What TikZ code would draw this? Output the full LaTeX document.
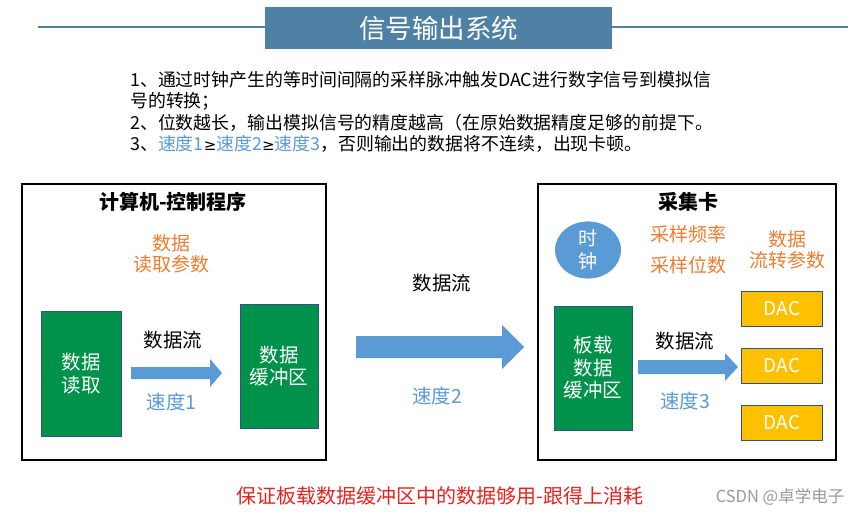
\documentclass[tikz,border=0pt]{standalone}
\usepackage{fontspec}
\usetikzlibrary{shapes.geometric}
\setmainfont{Noto Sans CJK SC}
\newfontfamily\symfont{DejaVu Sans}
\definecolor{titleblue}{HTML}{4F81A5}
\definecolor{arrowblue}{HTML}{5B9BD5}
\definecolor{grn}{HTML}{00914A}
\definecolor{orng}{HTML}{ED7D31}
\definecolor{dacfill}{HTML}{FFC000}
\definecolor{boxedge}{HTML}{2F528F}
\definecolor{redtxt}{HTML}{E8231E}
\definecolor{wmgray}{HTML}{9A9A9A}
\newcommand{\mygeq}{{\symfont\fontsize{15}{17}\selectfont ≥}}
\begin{document}
\begin{tikzpicture}[x=1pt,y=-1pt,
  txt/.style={inner sep=0pt, font=\fontsize{17.9}{20}\selectfont},
  lbl/.style={inner sep=0pt, font=\fontsize{19.5}{22}\selectfont},
  greenbox/.style={draw=boxedge, line width=0.8pt, fill=grn, text=white, align=center, inner sep=0pt, font=\fontsize{19.5}{22.5}\selectfont},
  dacbox/.style={draw=boxedge, line width=0.8pt, fill=dacfill, text=white, inner sep=0pt, minimum width=81pt, minimum height=35pt, font=\fontsize{19}{22}\selectfont},
  frame/.style={draw=black, line width=1.6pt},
  orangetxt/.style={inner sep=0pt, text=orng, align=center, font=\fontsize{19}{21}\selectfont},
  bluetxt/.style={lbl, text=arrowblue},
  boxtitle/.style={inner sep=0pt, font=\bfseries\fontsize{20}{22}\selectfont},
  flow/.style={fill=arrowblue}
]
\useasboundingbox (0,0) rectangle (861,518);
\fill[white] (0,0) rectangle (861,518);

% title
\node[fill=titleblue, minimum width=347pt, minimum height=42pt, inner sep=0pt, text=white, font=\fontsize{26.5}{28}\selectfont] (title) at (438.5,28) {信号输出系统};
\coordinate (tl) at (38,27);
\coordinate (tr) at (848,27);
\draw[titleblue, line width=1.8pt] (tl) -- (title.west |- tl);
\draw[titleblue, line width=1.8pt] (title.east |- tr) -- (tr);

% header text
\node[txt, anchor=west] (l1) at (130,80) {1、通过时钟产生的等时间间隔的采样脉冲触发DAC进行数字信号到模拟信};
\node[txt, anchor=west] (l2) at (130,101) {号的转换；};
\node[txt, anchor=west] (l3) at (130,123) {2、位数越长，输出模拟信号的精度越高（在原始数据精度足够的前提下。};
\node[txt, anchor=west] (l4) at (130,144) {3、{\color{arrowblue}速度1}\mygeq{\color{arrowblue}速度2}\mygeq{\color{arrowblue}速度3}，否则输出的数据将不连续，出现卡顿。};

% left frame
\node[frame, minimum width=304pt, minimum height=276pt, inner sep=0pt] (pc) at (174,322) {};
\node[boxtitle] (pctitle) at (173,201.5) {计算机-控制程序};
\node[orangetxt] (readparam) at (171,253.5) {数据\\读取参数};
\node[greenbox, minimum width=80pt, minimum height=125pt] (read) at (81,373.5) {数据\\读取};
\node[greenbox, minimum width=78pt, minimum height=124pt] (buf) at (279,366) {数据\\缓冲区};
\fill[flow] (131,367) -- (210,367) -- (210,359) -- (222,373) -- (210,387) -- (210,379) -- (131,379) -- cycle;
\node[lbl] (flow1) at (173,340) {数据流};
\node[bluetxt] (speed1) at (171.5,402) {速度1};

% middle
\fill[flow] (356,336) -- (502,336) -- (502,325) -- (524,347) -- (502,369) -- (502,358) -- (356,358) -- cycle;
\node[lbl] (flow2) at (442,283) {数据流};
\node[bluetxt] (speed2) at (437,396) {速度2};

% right frame
\node[frame, minimum width=298pt, minimum height=276pt, inner sep=0pt] (card) at (687,322) {};
\node[boxtitle] (cardtitle) at (688,201.5) {采集卡};
\node[ellipse, fill=arrowblue, minimum width=66pt, minimum height=57pt, inner sep=0pt, text=white, align=center, font=\fontsize{19}{23}\selectfont] (clock) at (588,250) {时\\钟};
\node[orangetxt] (rate) at (688,234) {采样频率};
\node[orangetxt] (bits) at (688,265) {采样位数};
\node[orangetxt] (flowparam) at (787,250) {数据\\流转参数};
\node[greenbox, minimum width=78pt, minimum height=124pt] (obuf) at (593,368) {板载\\数据\\缓冲区};
\fill[flow] (638,360) -- (725,360) -- (725,353) -- (738,367) -- (725,381) -- (725,374) -- (638,374) -- cycle;
\node[lbl] (flow3) at (685,341) {数据流};
\node[bluetxt] (speed3) at (685,401) {速度3};
\node[dacbox] (dac1) at (782,308.5) {DAC};
\node[dacbox] (dac2) at (782,366) {DAC};
\node[dacbox] (dac3) at (782,423) {DAC};

% bottom
\node[inner sep=0pt, text=redtxt, font=\fontsize{20}{22}\selectfont] (note) at (440,496) {保证板载数据缓冲区中的数据够用-跟得上消耗};
\node[inner sep=0pt, text=wmgray, font=\fontsize{16.5}{18}\selectfont] (wm) at (780,497) {CSDN @卓学电子};
\end{tikzpicture}
\end{document}
